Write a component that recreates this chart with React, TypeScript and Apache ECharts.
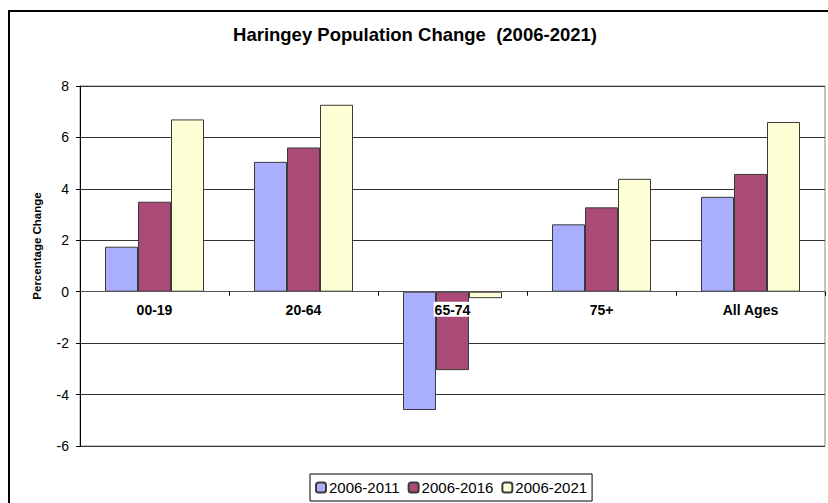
import React, { useEffect, useRef } from "react";
import * as echarts from "echarts";

const categories = ["00-19", "20-64", "65-74", "75+", "All Ages"];
const seriesNames = ["2006-2011", "2006-2016", "2006-2021"];
const values2011 = [1.75, 5.05, -4.6, 2.62, 3.69];
const values2016 = [3.5, 5.61, -3.05, 3.28, 4.58];
const values2021 = [6.7, 7.27, -0.25, 4.39, 6.6];
const yTicks = { min: -6, max: 8, interval: 2 };

const colors = ["#AAAEFF", "#A94A77", "#FFFFD6"];
const FONT = "'Liberation Sans', Arial, sans-serif";

const GRID = { left: 80, top: 86, right: 3, bottom: 57 };
const PAGE_H = 503;

export default function App() {
  const ref = useRef<HTMLDivElement>(null);
  useEffect(() => {
    if (!ref.current) return;
    const chart = echarts.init(ref.current, null, { renderer: "svg" });
    const data = [values2011, values2016, values2021];
    const gridH = PAGE_H - GRID.top - GRID.bottom;
    const zeroOffset = -(gridH * (0 - yTicks.min)) / (yTicks.max - yTicks.min);
    chart.setOption({
      animation: false,
      backgroundColor: "#fff",
      textStyle: { fontFamily: FONT },
      title: {
        text: "Haringey Population Change  (2006-2021)",
        left: 410,
        top: 20,
        textAlign: "center",
        textStyle: { fontFamily: FONT, fontSize: 18.5, fontWeight: "bold", color: "#000" },
      },
      legend: {
        left: 310,
        top: 474,
        itemWidth: 10,
        itemHeight: 10,
        itemGap: 8,
        padding: [6, 5, 6, 5],
        borderColor: "#000",
        borderWidth: 1,
        textStyle: { fontFamily: FONT, fontSize: 15, color: "#000", padding: [0, 0, 0, -2] },
        data: seriesNames,
      },
      grid: {
        ...GRID,
        show: true,
        borderColor: "#8a8a8a",
        borderWidth: 1,
        containLabel: false,
      },
      xAxis: {
        type: "category",
        data: categories,
        z: 5,
        position: "bottom",
        offset: zeroOffset,
        axisLine: { onZero: false, lineStyle: { color: "#555", width: 1 } },
        axisTick: { show: true, length: 4, lineStyle: { color: "#000" } },
        axisLabel: {
          fontFamily: FONT,
          fontSize: 14,
          fontWeight: "bold",
          color: "#000",
          margin: 10,
          backgroundColor: "#fff",
          padding: [1, 1, 0, 1],
        },
        splitLine: { show: false },
      },
      yAxis: {
        type: "value",
        min: yTicks.min,
        max: yTicks.max,
        interval: yTicks.interval,
        axisLine: { show: true, lineStyle: { color: "#000", width: 1 } },
        axisTick: { show: true, length: 4, lineStyle: { color: "#000" } },
        axisLabel: { fontFamily: FONT, fontSize: 14, color: "#000", margin: 11 },
        splitLine: { show: true, lineStyle: { color: "#333", width: 1 } },
      },
      graphic: [
        {
          type: "rect",
          shape: { x: 9, y: 11, width: 900, height: 600 },
          style: { fill: "none", stroke: "#000", lineWidth: 2 },
          silent: true,
          z: 100,
        },
        {
          type: "text",
          x: 37,
          y: 246,
          rotation: Math.PI / 2,
          style: {
            text: "Percentage Change",
            font: `bold 11.5px ${FONT}`,
            fill: "#000",
            textAlign: "center",
            textVerticalAlign: "middle",
          },
        },
      ],
      series: seriesNames.map((name, i) => ({
        name,
        type: "bar",
        data: data[i],
        barWidth: 33,
        barGap: "0%",
        itemStyle: { color: colors[i], borderColor: "#3a3a3a", borderWidth: 1 },
      })),
    });
    return () => chart.dispose();
  }, []);
  return (
    <div
      ref={ref}
      style={{ position: "fixed", left: 0, top: 0, width: 828, height: 503 }}
    />
  );
}
